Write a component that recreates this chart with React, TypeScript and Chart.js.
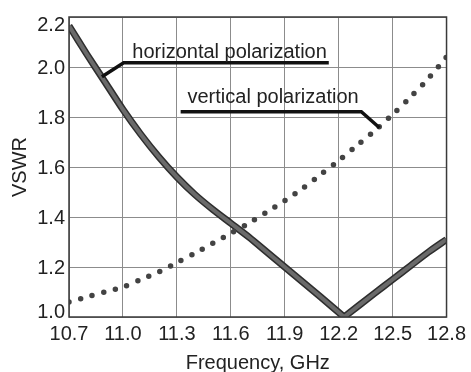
import React, { useEffect, useRef } from 'react';
import { Chart, registerables } from 'chart.js';

Chart.register(...registerables);

// Horizontal polarization (solid curve): falling branch and rising branch
const freqHL = [10.7, 10.8, 10.9, 11.0, 11.1, 11.2, 11.3, 11.4, 11.5, 11.6, 11.7, 11.8, 11.9, 12.0, 12.1, 12.23];
const vswrHL = [2.165, 2.05, 1.94, 1.83, 1.73, 1.64, 1.56, 1.49, 1.43, 1.375, 1.32, 1.26, 1.2, 1.14, 1.08, 1.0];
const freqHR = [12.23, 12.4, 12.5, 12.6, 12.7, 12.8];
const vswrHR = [1.0, 1.095, 1.15, 1.205, 1.26, 1.31];

// Vertical polarization (dotted curve)
const freqV = [10.7, 10.8, 10.9, 11.0, 11.1, 11.2, 11.3, 11.4, 11.5, 11.6, 11.7, 11.8, 11.9, 12.0, 12.1, 12.2, 12.3, 12.4, 12.5, 12.6, 12.7, 12.8];
const vswrV = [1.06, 1.08, 1.1, 1.12, 1.15, 1.18, 1.218, 1.255, 1.295, 1.335, 1.375, 1.42, 1.465, 1.515, 1.57, 1.625, 1.685, 1.745, 1.81, 1.88, 1.955, 2.04];

const xTicks = [10.7, 11.0, 11.3, 11.6, 11.9, 12.2, 12.5, 12.8];
const yTicks = [1.0, 1.2, 1.4, 1.6, 1.8, 2.0, 2.2];

const xTitle = 'Frequency, GHz';
const yTitle = 'VSWR';
const hLabel = 'horizontal polarization';
const vLabel = 'vertical polarization';

// Annotation anchors in data units: leader polyline + text position
const hLeader = [[10.883, 1.961], [11.004, 2.017], [12.145, 2.017]];
const hText = [11.052, 2.035];
const vLeader = [[11.321, 1.821], [12.326, 1.821], [12.427, 1.757]];
const vText = [11.359, 1.855];

const FONT = '"Liberation Sans", Arial, Helvetica, sans-serif';
const FS = 20;

const overlayPlugin = {
  id: 'overlay',
  afterDraw(chart: any) {
    const { ctx, chartArea, scales } = chart;
    const xs = scales.x;
    const ys = scales.y;
    ctx.save();
    ctx.strokeStyle = '#3a3a3a';
    ctx.lineWidth = 1.5;
    ctx.strokeRect(chartArea.left, chartArea.top, chartArea.right - chartArea.left, chartArea.bottom - chartArea.top);

    ctx.fillStyle = '#222';
    ctx.font = `${FS}px ${FONT}`;
    ctx.textAlign = 'right';
    ctx.textBaseline = 'alphabetic';
    const cap = FS * 0.716;
    for (const v of yTicks) {
      const py = ys.getPixelForValue(v);
      let base = py + cap / 2;
      base = Math.max(base, chartArea.top + cap);
      base = Math.min(base, chartArea.bottom + 1);
      ctx.fillText(v.toFixed(1), chartArea.left - 4, base);
    }

    const drawLeader = (pts: number[][]) => {
      ctx.beginPath();
      pts.forEach((p, i) => {
        const px = xs.getPixelForValue(p[0]);
        const py = ys.getPixelForValue(p[1]);
        if (i === 0) ctx.moveTo(px, py);
        else ctx.lineTo(px, py);
      });
      ctx.strokeStyle = '#111';
      ctx.lineWidth = 3.5;
      ctx.lineJoin = 'miter';
      ctx.lineCap = 'butt';
      ctx.stroke();
    };
    drawLeader(hLeader);
    drawLeader(vLeader);

    ctx.textAlign = 'left';
    ctx.fillStyle = '#222';
    ctx.fillText(hLabel, xs.getPixelForValue(hText[0]), ys.getPixelForValue(hText[1]));
    ctx.fillText(vLabel, xs.getPixelForValue(vText[0]), ys.getPixelForValue(vText[1]));
    ctx.restore();
  },
};

export default function App() {
  const canvasRef = useRef<HTMLCanvasElement | null>(null);

  useEffect(() => {
    if (!canvasRef.current) return;
    const hlPts = freqHL.map((f, i) => ({ x: f, y: vswrHL[i] }));
    const hrPts = freqHR.map((f, i) => ({ x: f, y: vswrHR[i] }));
    const vPts = freqV.map((f, i) => ({ x: f, y: vswrV[i] }));
    const solid = (data: any[], color: string, width: number, order: number, label: string) => ({
      label,
      data,
      borderColor: color,
      borderWidth: width,
      pointRadius: 0,
      tension: 0.25,
      fill: false,
      order,
    });
    const chart = new Chart(canvasRef.current, {
      type: 'line',
      data: {
        datasets: [
          {
            label: vLabel,
            data: vPts,
            borderColor: '#434343',
            borderWidth: 5.5,
            borderDash: [0, 12],
            borderCapStyle: 'round',
            pointRadius: 0,
            tension: 0.3,
            fill: false,
            order: 0,
          },
          solid(hlPts, '#6a6a6a', 4, 1, hLabel),
          solid(hrPts, '#6a6a6a', 4, 1, hLabel),
          solid(hlPts, '#2e2e2e', 7, 2, hLabel),
          solid(hrPts, '#2e2e2e', 7, 2, hLabel),
        ],
      },
      options: {
        responsive: false,
        animation: false,
        events: [],
        layout: { padding: { top: 17, right: 20, left: 0, bottom: 0 } },
        plugins: {
          legend: { display: false },
          tooltip: { enabled: false },
          title: { display: false },
        },
        scales: {
          x: {
            type: 'linear',
            min: 10.7,
            max: 12.8,
            afterBuildTicks: (scale: any) => {
              scale.ticks = xTicks.map((v) => ({ value: v }));
            },
            afterFit: (scale: any) => {
              scale.height = 55;
            },
            ticks: {
              callback: (v: any) => Number(v).toFixed(1),
              color: '#222',
              font: { family: FONT, size: FS },
              padding: 5,
              maxRotation: 0,
              autoSkip: false,
            },
            grid: { color: '#8c8c8c', lineWidth: 1, drawTicks: false },
            border: { display: false },
            title: {
              display: true,
              text: xTitle,
              color: '#222',
              font: { family: FONT, size: FS },
              padding: { top: 0, bottom: -3 },
            },
          },
          y: {
            type: 'linear',
            min: 1.0,
            max: 2.2,
            afterBuildTicks: (scale: any) => {
              scale.ticks = yTicks.map((v) => ({ value: v }));
            },
            afterFit: (scale: any) => {
              scale.width = 69;
            },
            ticks: { display: false },
            grid: { color: '#8c8c8c', lineWidth: 1, drawTicks: false },
            border: { display: false },
            title: {
              display: true,
              text: yTitle,
              color: '#222',
              font: { family: FONT, size: FS },
              padding: { top: 8, bottom: 0 },
            },
          },
        },
      },
      plugins: [overlayPlugin],
    } as any);
    return () => chart.destroy();
  }, []);

  return (
    <div style={{ position: 'fixed', left: 0, top: 0, width: 471, height: 372, background: '#fff' }}>
      <canvas ref={canvasRef} width={471} height={372} style={{ display: 'block' }} />
    </div>
  );
}
